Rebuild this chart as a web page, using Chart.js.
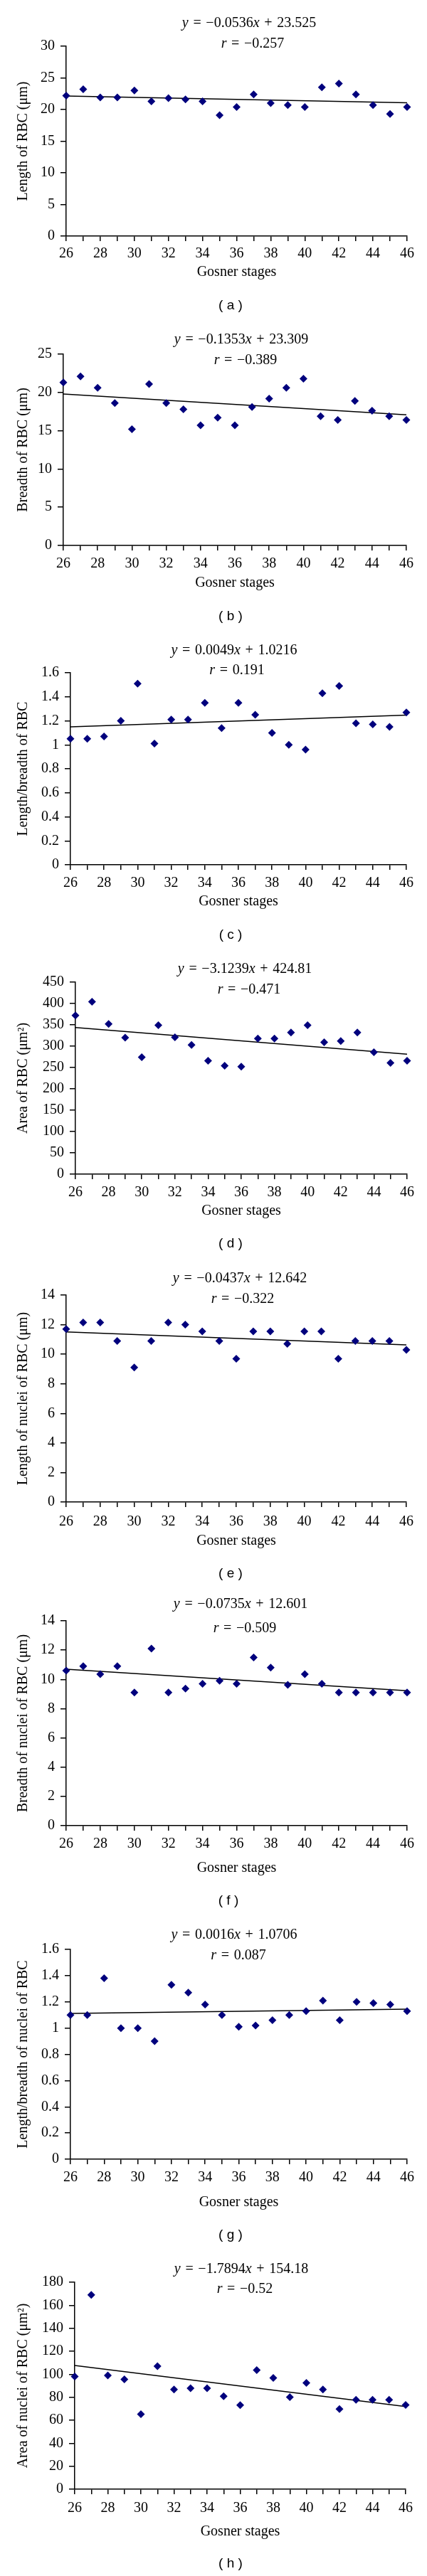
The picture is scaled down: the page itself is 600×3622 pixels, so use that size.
<!DOCTYPE html>
<html><head><meta charset="utf-8">
<script src="https://cdn.jsdelivr.net/npm/chart.js@4"></script>
<style>
html,body{margin:0;padding:0;background:#fff;}
body{width:600px;height:3622px;position:relative;overflow:hidden;}
canvas{position:absolute;left:0;display:block;}
</style></head><body>
<script>
// ---- data ----
const stages = [26,27,28,29,30,31,32,33,34,35,36,37,38,39,40,41,42,43,44,45,46];
const lengthRBC  = [22.2,23.2,21.9,21.9,23.0,21.3,21.8,21.6,21.3,19.1,20.4,22.4,21.0,20.7,20.4,23.5,24.1,22.4,20.7,19.3,20.4];
const breadthRBC = [21.3,22.1,20.6,18.6,15.2,21.1,18.6,17.8,15.7,16.7,15.7,18.1,19.2,20.6,21.8,16.9,16.4,18.9,17.6,16.9,16.4];
const ratioRBC   = [1.05,1.05,1.07,1.20,1.51,1.01,1.21,1.21,1.35,1.14,1.35,1.25,1.10,1.00,0.96,1.43,1.49,1.18,1.17,1.15,1.27];
const areaRBC    = [372,404,352,320,274,349,321,303,266,254,252,318,318,332,349,309,312,332,286,261,266];
const lengthNuc  = [11.7,12.15,12.15,10.9,9.1,10.9,12.15,12.0,11.55,10.9,9.7,11.55,11.55,10.7,11.55,11.55,9.7,10.9,10.9,10.9,10.3];
const breadthNuc = [10.6,10.9,10.35,10.9,9.1,12.1,9.1,9.37,9.7,9.9,9.7,11.5,10.8,9.63,10.35,9.7,9.1,9.1,9.1,9.1,9.1];
const ratioNuc   = [1.10,1.10,1.38,1.00,1.00,0.90,1.33,1.27,1.18,1.10,1.01,1.02,1.06,1.10,1.13,1.21,1.06,1.20,1.19,1.18,1.13];
const areaNuc    = [98,169,99,95.6,65.2,107,86.7,87.9,87.9,80.9,73.1,103.6,96.8,80.1,92.5,86.7,69.8,77.8,77.8,77.8,73.3];

const seriesList = [lengthRBC, breadthRBC, ratioRBC, areaRBC, lengthNuc, breadthNuc, ratioNuc, areaNuc];
const panelNames = ['a','b','c','d','e','f','g','h'];
const yLabels = ['Length of RBC (μm)','Breadth of RBC (μm)','Length/breadth of RBC','Area of RBC (μm²)',
                 'Length of nuclei of RBC (μm)','Breadth of nuclei of RBC (μm)','Length/breadth of nuclei of RBC','Area of nuclei of RBC (μm²)'];
const yMaxes = [30,25,1.6,450,14,14,1.6,180];
const ySteps = [5,5,0.2,50,2,2,0.2,20];
const slopes = [-0.0536,-0.1353,0.0049,-3.1239,-0.0437,-0.0735,0.0016,-1.7894];
const intercepts = [23.525,23.309,1.0216,424.81,12.642,12.601,1.0706,154.18];
const slopeText = ['−0.0536','−0.1353','0.0049','−3.1239','−0.0437','−0.0735','0.0016','−1.7894'];
const interceptText = ['23.525','23.309','1.0216','424.81','12.642','12.601','1.0706','154.18'];
const rText = ['−0.257','−0.389','0.191','−0.471','−0.322','−0.509','0.087','−0.52'];

// ---- layout (absolute page px) ----
// [canvasTop, canvasH, plotL, plotR, plotT, plotB, eq1Y, eq2Y, eqX, rX, tickY, gosY, labY, labX]
const layout = [
  [0,   450, 93, 572, 65,  332, 33,  62,  350, 355, 357, 383, 430, 324],
  [450, 450, 89, 571, 498, 767, 478, 507, 339, 345, 793, 820, 867, 324],
  [900, 450, 99, 571, 946, 1216,915, 943, 329, 333, 1242,1268,1315,324],
  [1350,430, 106,572, 1381,1651,1363,1392,344, 350, 1677,1703,1749,324],
  [1780,460, 93, 571, 1821,2112,1798,1827,337, 341, 2140,2167,2213,324],
  [2240,460, 93, 572, 2279,2567,2256,2290,338, 344, 2593,2627,2673,321],
  [2700,455, 99, 572, 2741,3036,2721,2750,329, 335, 3062,3097,3143,324],
  [3155,467, 105,570, 3209,3500,3191,3219,339, 344, 3527,3560,3605,324]
];

const SERIF = '"Liberation Serif", "Times New Roman", serif';
const SANS = '"Liberation Sans", Arial, sans-serif';

function drawSpans(ctx, spans, cx, cy){
  let total = 0;
  const widths = spans.map(([t,it])=>{ ctx.font = (it?'italic ':'') + '20px ' + SERIF; const w = ctx.measureText(t).width; total += w; return w; });
  let x = cx - total/2;
  ctx.textBaseline = 'middle'; ctx.textAlign = 'left'; ctx.fillStyle = '#000';
  spans.forEach(([t,it],i)=>{ ctx.font = (it?'italic ':'') + '20px ' + SERIF; ctx.fillText(t, x, cy); x += widths[i]; });
}

const textPlugin = {
  id: 'txt',
  afterDraw(chart, args, o){
    const ctx = chart.ctx;
    ctx.save();
    const sp = '\u2004';
    drawSpans(ctx, [['y',true],[sp+'='+sp,false],[o.slope,false],['x',true],[sp+'+'+sp,false],[o.inter,false]], o.eqX, o.eq1Y);
    drawSpans(ctx, [['r',true],[sp+'='+sp,false],[o.r,false]], o.rX, o.eq2Y);
    ctx.font = '19px ' + SANS; ctx.textAlign = 'center'; ctx.textBaseline = 'middle'; ctx.fillStyle = '#000';
    ctx.fillText('( ' + o.lab + ' )', o.labX, o.labY);
    ctx.restore();
  }
};

seriesList.forEach((vals, i)=>{
  const [cTop, cH, L, R, T, B, eq1Y, eq2Y, eqX, rX, tickY, gosY, labY, labX] = layout[i];
  const cv = document.createElement('canvas');
  cv.width = 600; cv.height = cH;
  cv.style.top = cTop + 'px'; cv.style.width = '600px'; cv.style.height = cH + 'px';
  document.body.appendChild(cv);
  const xH = gosY - B + 12;
  const tickPad = tickY - B - 7 - 12;
  const trend = [26,46].map(x=>({x, y: slopes[i]*x + intercepts[i]}));
  new Chart(cv, {
    type: 'scatter',
    data: { datasets: [
      { type:'line', data: trend, borderColor:'#000', borderWidth:1.5, pointRadius:0, fill:false, clip:false, order:1 },
      { type:'scatter', data: stages.map((x,k)=>({x, y: vals[k]})), pointStyle:'rectRot', pointRadius:5.5,
        backgroundColor:'#00007d', borderColor:'#00007d', borderWidth:0, clip:false, order:0 }
    ]},
    options: {
      responsive:false, animation:false, devicePixelRatio:1,
      layout: { padding: { left:0, right: 600 - R, top: T - cTop, bottom: cH - (B - cTop) - xH } },
      plugins: { legend:{display:false}, tooltip:{enabled:false},
        txt: { slope: slopeText[i], inter: interceptText[i], r: rText[i], lab: panelNames[i],
               eqX, rX, eq1Y: eq1Y - cTop, eq2Y: eq2Y - cTop, labX, labY: labY - cTop } },
      scales: {
        x: { type:'linear', position:'bottom', min:26, max:46,
          ticks:{ stepSize:1, autoSkip:false, maxRotation:0, minRotation:0, color:'#000', padding: tickPad,
                  font:{family:SERIF, size:20}, callback: v => (v % 2 === 0 ? String(v) : '') },
          grid:{ display:true, drawOnChartArea:false, drawTicks:true, tickLength:7, tickColor:'#000', tickWidth:1.5, color:'#000', lineWidth:1.5 },
          border:{ display:true, color:'#000', width:1.5 },
          title:{ display:true, text:'Gosner stages', color:'#000', font:{family:SERIF, size:20}, padding:0 },
          afterFit: s => { s.height = xH; }
        },
        y: { type:'linear', position:'left', min:0, max:yMaxes[i],
          ticks:{ stepSize:ySteps[i], color:'#000', padding:8, font:{family:SERIF, size:20},
                  callback: v => String(Number(Number(v).toFixed(2))) },
          grid:{ display:true, drawOnChartArea:false, drawTicks:true, tickLength:8, tickColor:'#000', tickWidth:1.5, color:'#000', lineWidth:1.5 },
          border:{ display:true, color:'#000', width:1.5 },
          title:{ display:true, text:yLabels[i], color:'#000', font:{family:SERIF, size:20}, padding:{top:21, bottom:0} },
          afterFit: s => { s.width = L; }
        }
      }
    },
    plugins: [textPlugin]
  });
});
</script>
</body></html>
